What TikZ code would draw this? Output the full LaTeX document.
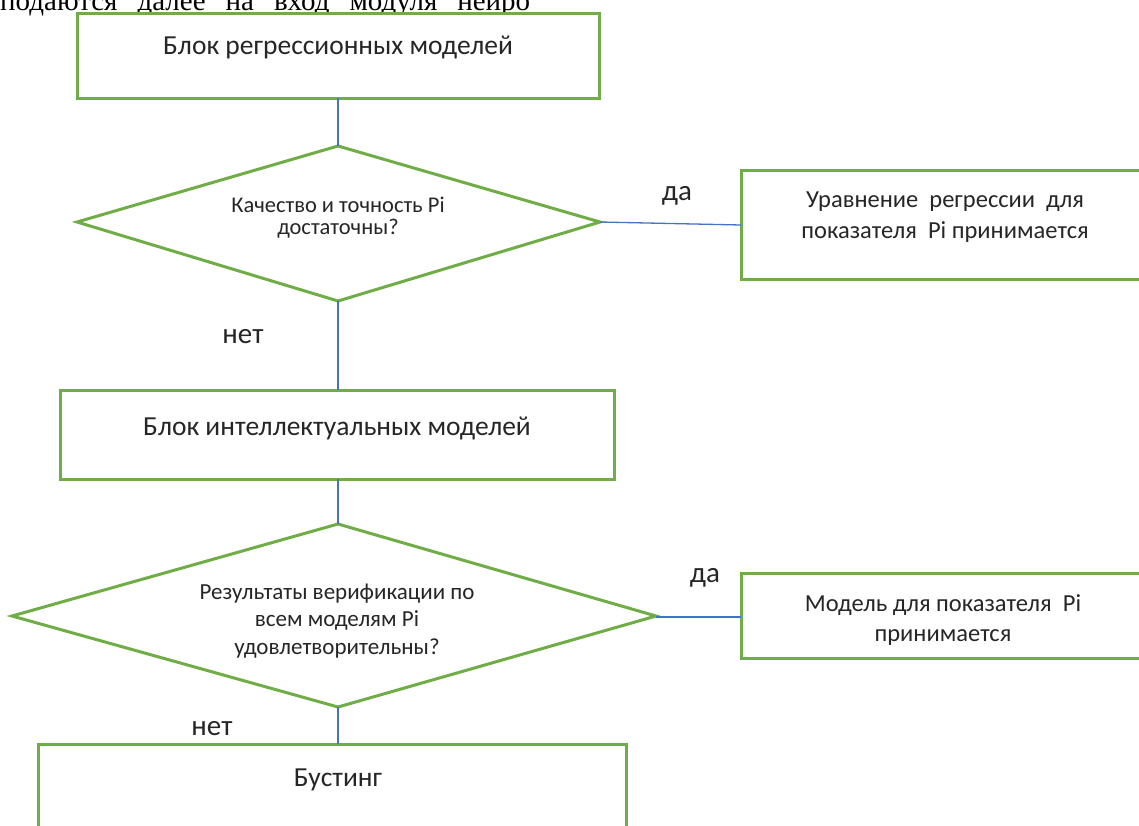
\documentclass[tikz,border=0pt]{standalone}
\usepackage{fontspec}
\setmainfont{Carlito}
\newfontfamily\seriffont{Liberation Serif}
\tikzset{
  box/.style={draw=boxgreen, line width=3pt, fill=white},
  conn/.style={draw=connblue, line width=1.3pt},
  lbl/.style={font=\fontsize{29}{34}\selectfont, text=black!85, inner sep=0},
  ttl/.style={font=\fontsize{27.5}{32}\selectfont, text=black!85, inner sep=0},
  dtxtA/.style={font=\fontsize{22.5}{22}\selectfont, align=center, text=black!85, inner sep=0},
  dtxtB/.style={font=\fontsize{23}{27.5}\selectfont, align=center, text=black!85, inner sep=0},
  rtxt/.style={font=\fontsize{24.5}{30.5}\selectfont, align=center, text=black!85, inner sep=0},
}
\definecolor{boxgreen}{RGB}{112,173,71}
\definecolor{connblue}{RGB}{68,114,196}
\begin{document}
\begin{tikzpicture}[x=1pt,y=-1pt]
\useasboundingbox (0,0) rectangle (1139,825);
\clip (0,0) rectangle (1139,825);
% cut-off text line at top
\node[anchor=base west, inner sep=0, font=\seriffont\fontsize{29}{34}\selectfont] (top) at (0,10) {\makebox[530pt][s]{подаются далее на вход модуля нейро}};
% shapes
\draw[box] (77,13) rectangle (599,98);
\coordinate (b1s) at (338,98);
\node[ttl] (b1t) at (338,47) {Блок регрессионных моделей};

\draw[box] (338,146) -- (600,222) -- (338,301) -- (77,222) -- cycle;
\coordinate (d1n) at (338,146);
\coordinate (d1e) at (600,222);
\coordinate (d1s) at (338,301);
\node[dtxtA] (d1t) at (338,218) {Качество и точность Pi\\достаточны?};

\draw[box] (741,170) rectangle (1160,279);
\coordinate (b2w) at (741,225);
\node[rtxt] (b2t) at (945,217) {Уравнение\ \ регрессии\ \ для\\показателя\ \ Pi принимается};

\draw[box] (60,390) rectangle (614,479);
\coordinate (b3n) at (338,390);
\coordinate (b3s) at (338,479);
\node[ttl] (b3t) at (337,428) {Блок интеллектуальных моделей};

\draw[box] (338,524) -- (656,616) -- (338,707) -- (12,616) -- cycle;
\coordinate (d2n) at (338,524);
\coordinate (d2e) at (656,617);
\coordinate (d2s) at (338,707);
\node[dtxtB] (d2t) at (337,621) {Результаты верификации по\\всем моделям Pi\\удовлетворительны?};

\draw[box] (741,573) rectangle (1160,658);
\coordinate (b4w) at (741,617);
\node[rtxt] (b4t) at (943,620) {Модель для показателя\ \ Pi\\принимается};

\draw[box] (38,744) rectangle (626,860);
\coordinate (b5n) at (338,744);
\node[ttl] (b5t) at (338,780) {Бустинг};

% connectors
\draw[conn] (b1s) -- (d1n);
\draw[conn] (d1e) -- (b2w);
\draw[conn] (d1s) -- (b3n);
\draw[conn] (b3s) -- (d2n);
\draw[conn] (d2e) -- (b4w);
\draw[conn] (d2s) -- (b5n);

% labels
\node[lbl] (da1) at (677,196) {да};
\node[lbl] (net1) at (243,337) {нет};
\node[lbl] (da2) at (705,578) {да};
\node[lbl] (net2) at (212,729) {нет};
\end{tikzpicture}
\end{document}
